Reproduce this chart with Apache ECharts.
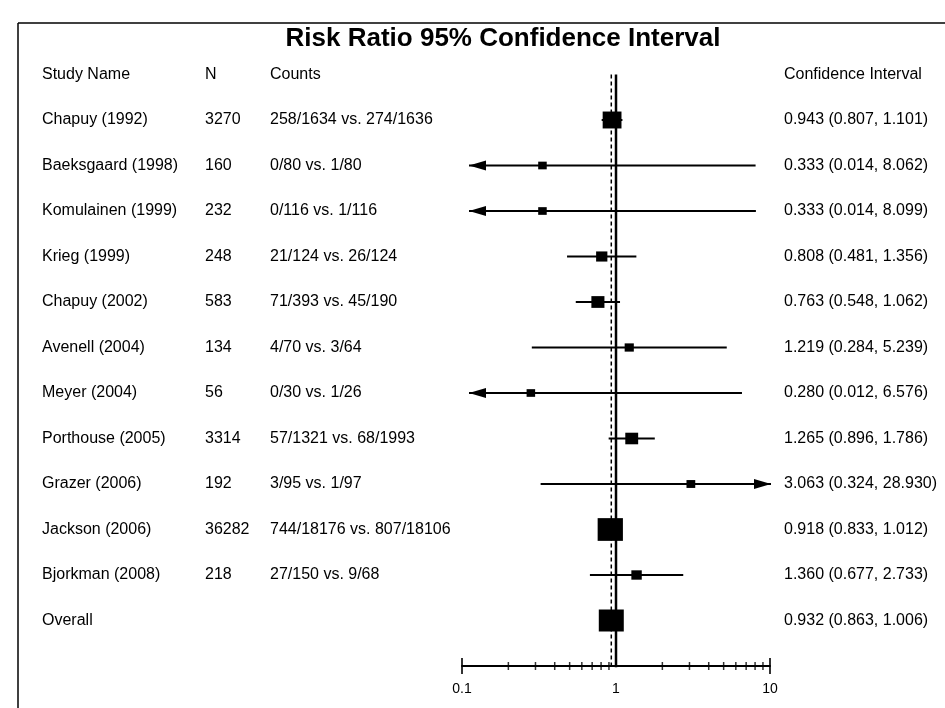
<!DOCTYPE html>
<html><head><meta charset="utf-8">
<script src="https://cdn.jsdelivr.net/npm/echarts@6/dist/echarts.min.js"></script>
<style>html,body{margin:0;padding:0;background:#fff}#c{width:945px;height:708px}</style>
</head><body><div id="c"></div>
<script>
const titleText = 'Risk Ratio 95% Confidence Interval';
const headers = ['Study Name', 'N', 'Counts', 'Confidence Interval'];
const studies = ['Chapuy (1992)', 'Baeksgaard (1998)', 'Komulainen (1999)', 'Krieg (1999)', 'Chapuy (2002)', 'Avenell (2004)', 'Meyer (2004)', 'Porthouse (2005)', 'Grazer (2006)', 'Jackson (2006)', 'Bjorkman (2008)', 'Overall'];
const nValues = ['3270', '160', '232', '248', '583', '134', '56', '3314', '192', '36282', '218', ''];
const counts = ['258/1634 vs. 274/1636', '0/80 vs. 1/80', '0/116 vs. 1/116', '21/124 vs. 26/124', '71/393 vs. 45/190', '4/70 vs. 3/64', '0/30 vs. 1/26', '57/1321 vs. 68/1993', '3/95 vs. 1/97', '744/18176 vs. 807/18106', '27/150 vs. 9/68', ''];
const rr = [0.943, 0.333, 0.333, 0.808, 0.763, 1.219, 0.280, 1.265, 3.063, 0.918, 1.360, 0.932];
const lower = [0.807, 0.014, 0.014, 0.481, 0.548, 0.284, 0.012, 0.896, 0.324, 0.833, 0.677, 0.863];
const upper = [1.101, 8.062, 8.099, 1.356, 1.062, 5.239, 6.576, 1.786, 28.930, 1.012, 2.733, 1.006];
const weights = [24.2, 0.06, 0.06, 2.2, 5.3, 0.28, 0.06, 4.9, 0.12, 61.6, 1.2, 100];
const xRange = [0.1, 10];
const majorTicks = [0.1, 10];
const minorTicks = [0.2, 0.3, 0.4, 0.5, 0.6, 0.7, 0.8, 0.9, 2, 3, 4, 5, 6, 7, 8, 9];
const noEffect = 1;

const FF = '"Liberation Sans", Arial, sans-serif';
const FONT = '16px ' + FF;
const colX = [42, 205, 270, 784];
const last = studies.length - 1;

const chart = echarts.init(document.getElementById('c'), null, {renderer: 'canvas'});

const rowData = rr.map((v, i) => [v, i, lower[i], upper[i], weights[i]]);

const option = {
  backgroundColor: '#fff',
  animation: false,
  title: {
    text: titleText, left: 498, top: 21, textAlign: 'center',
    textStyle: {fontSize: 26, fontWeight: 'bold', color: '#000', fontFamily: FF}
  },
  grid: {left: 462, right: 175, top: 74.5, bottom: 42},
  xAxis: {
    type: 'log', logBase: 10, min: xRange[0], max: xRange[1],
    axisLine: {show: true, onZero: false, lineStyle: {color: '#000', width: 2}},
    axisTick: {show: false},
    splitLine: {show: false},
    minorTick: {show: false},
    axisLabel: {color: '#000', fontSize: 14, margin: 16, fontFamily: FF}
  },
  yAxis: {
    type: 'value', inverse: true, min: -1, max: 12, show: false
  },
  graphic: [
    {type: 'line', shape: {x1: 18, y1: 23, x2: 945, y2: 23}, style: {stroke: '#000', lineWidth: 1.5}},
    {type: 'line', shape: {x1: 18, y1: 23, x2: 18, y2: 708}, style: {stroke: '#000', lineWidth: 1.5}}
  ],
  series: [
    {
      type: 'line', data: [[noEffect, -1], [noEffect, 12.2]], symbol: 'none',
      lineStyle: {color: '#000', width: 2.5}, z: 3
    },
    {
      type: 'line', data: [[rr[last], -1], [rr[last], 12]], symbol: 'none',
      lineStyle: {color: '#000', width: 1.5, type: [4, 3]}, z: 3
    },
    {
      type: 'scatter', data: minorTicks.map(v => [v, 12]), symbol: 'rect', symbolSize: [1.5, 8],
      itemStyle: {color: '#000'}, z: 4
    },
    {
      type: 'scatter', data: majorTicks.map(v => [v, 12]), symbol: 'rect', symbolSize: [2, 16],
      itemStyle: {color: '#000'}, z: 4
    },
    {
      type: 'custom', data: [[noEffect, -1]], z: 5,
      renderItem: function (params, api) {
        const y = api.coord([noEffect, -1])[1];
        return {type: 'group', children: headers.map((h, k) => ({
          type: 'text', style: {text: h, x: colX[k], y: y, font: FONT, fill: '#000', verticalAlign: 'middle'}
        }))};
      }
    },
    {
      type: 'custom', data: rowData, z: 5,
      renderItem: function (params, api) {
        const i = api.value(1), v = api.value(0), lo = api.value(2), hi = api.value(3), w = api.value(4);
        const c = api.coord([v, i]);
        const a = api.coord([Math.max(lo, xRange[0]), i]);
        const b = api.coord([Math.min(hi, xRange[1]), i]);
        const y = c[1];
        const ch = [];
        const x1 = lo < xRange[0] ? a[0] + 7 : a[0];
        const x2 = hi > xRange[1] ? b[0] + 1 : b[0];
        ch.push({type: 'line', shape: {x1: x1, y1: y, x2: x2, y2: y}, style: {stroke: '#000', lineWidth: 2}});
        if (lo < xRange[0]) ch.push({type: 'polygon', shape: {points: [[x1, y], [x1 + 17, y - 5], [x1 + 17, y + 5]]}, style: {fill: '#000'}});
        if (hi > xRange[1]) ch.push({type: 'polygon', shape: {points: [[x2, y], [x2 - 17, y - 5], [x2 - 17, y + 5]]}, style: {fill: '#000'}});
        const idx = params.dataIndex;
        const sw = idx === last ? 25 : 8 + 2.2 * Math.sqrt(w);
        const sh = idx === last ? 22 : sw * 0.9;
        ch.push({type: 'rect', shape: {x: c[0] - sw / 2, y: y - sh / 2, width: sw, height: sh}, style: {fill: '#000'}});
        const ci = rr[idx].toFixed(3) + ' (' + lower[idx].toFixed(3) + ', ' + upper[idx].toFixed(3) + ')';
        const cols = [studies[idx], nValues[idx], counts[idx], ci];
        cols.forEach((t, k) => ch.push({type: 'text', style: {text: t, x: colX[k], y: y, font: FONT, fill: '#000', verticalAlign: 'middle'}}));
        return {type: 'group', children: ch};
      }
    }
  ]
};
chart.setOption(option);
</script>
</body></html>
